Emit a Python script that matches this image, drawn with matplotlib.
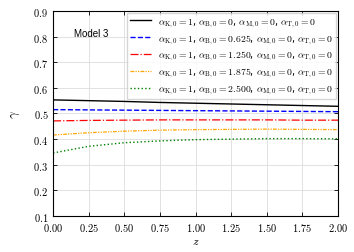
import numpy as np
import matplotlib
matplotlib.use("Agg")
import matplotlib.pyplot as plt
from matplotlib.ticker import FuncFormatter

plt.rcParams['mathtext.fontset'] = 'cm'

# redshift samples
z = [0.0, 0.25, 0.5, 0.75, 1.0, 1.25, 1.5, 1.75, 2.0]

gamma_b0 = [0.553, 0.550, 0.547, 0.543, 0.540, 0.537, 0.534, 0.531, 0.528]
gamma_b0625 = [0.515, 0.514, 0.513, 0.512, 0.511, 0.510, 0.509, 0.508, 0.507]
gamma_b1250 = [0.471, 0.473, 0.474, 0.475, 0.475, 0.475, 0.475, 0.474, 0.474]
gamma_b1875 = [0.416, 0.425, 0.431, 0.435, 0.437, 0.438, 0.439, 0.438, 0.437]
gamma_b2500 = [0.346, 0.372, 0.386, 0.393, 0.398, 0.400, 0.402, 0.402, 0.401]

labels = [
    r"$\alpha_{\rm K,0}=1$, $\alpha_{\rm B,0}=0$, $\alpha_{\rm M,0}=0$, $\alpha_{\rm T,0}=0$",
    r"$\alpha_{\rm K,0}=1$, $\alpha_{\rm B,0}=0.625$, $\alpha_{\rm M,0}=0$, $\alpha_{\rm T,0}=0$",
    r"$\alpha_{\rm K,0}=1$, $\alpha_{\rm B,0}=1.250$, $\alpha_{\rm M,0}=0$, $\alpha_{\rm T,0}=0$",
    r"$\alpha_{\rm K,0}=1$, $\alpha_{\rm B,0}=1.875$, $\alpha_{\rm M,0}=0$, $\alpha_{\rm T,0}=0$",
    r"$\alpha_{\rm K,0}=1$, $\alpha_{\rm B,0}=2.500$, $\alpha_{\rm M,0}=0$, $\alpha_{\rm T,0}=0$",
]

fig = plt.figure(figsize=(3.54, 2.53), dpi=100)
ax = fig.add_axes([0.150, 0.142, 0.805, 0.811])

ax.plot(z, gamma_b0, color='black', linestyle='-', linewidth=1.0, label=labels[0])
ax.plot(z, gamma_b0625, color='blue', linestyle='--', linewidth=1.0, label=labels[1])
ax.plot(z, gamma_b1250, color='red', linestyle='-.', linewidth=0.9, label=labels[2])
ax.plot(z, gamma_b1875, color='orange', linestyle=(0, (3, 1, 1, 1, 1, 1)), linewidth=0.9, label=labels[3])
ax.plot(z, gamma_b2500, color='green', linestyle=':', linewidth=1.0, label=labels[4])

ax.set_xlim(0, 2)
ax.set_ylim(0.1, 0.9)
ax.set_xticks(np.arange(0, 2.01, 0.25))
ax.set_yticks(np.arange(0.1, 0.91, 0.1))
ax.xaxis.set_major_formatter(FuncFormatter(lambda v, p: f"${v:.2f}$"))
ax.yaxis.set_major_formatter(FuncFormatter(lambda v, p: f"${v:.1f}$"))
ax.tick_params(direction='in', top=True, right=True, labelsize=7.5, length=3, width=0.6)
ax.grid(True, color='#dddddd', linewidth=0.6)
for s in ax.spines.values():
    s.set_linewidth(0.8)

ax.set_xlabel(r"$z$", fontsize=8.5, labelpad=1)
ax.set_ylabel(r"$\gamma$", fontsize=9.5, labelpad=8)

ax.text(0.075, 0.89, "Model 3", transform=ax.transAxes, fontsize=7,
        family='Liberation Sans', va='center')

ax.legend(loc='upper right', fontsize=7, frameon=True, handlelength=2.2,
          borderaxespad=0.2, labelspacing=0.3, handletextpad=0.7,
          borderpad=0.3, fancybox=False, edgecolor='#cccccc')

fig.savefig("out.png", dpi=100)
